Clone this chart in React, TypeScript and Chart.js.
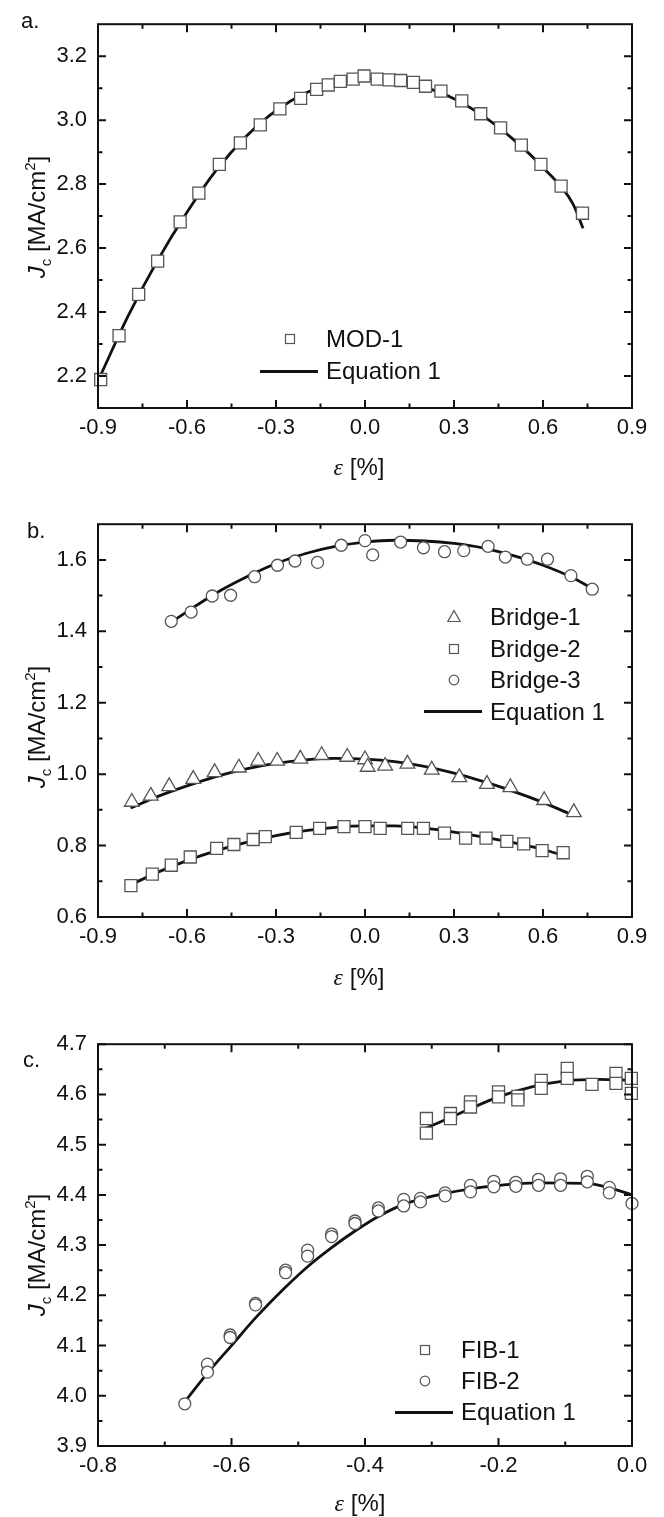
import React, { useEffect, useRef } from "react";
import { Chart, registerables } from "chart.js";
Chart.register(...registerables);

// ---------- Panel a ----------
const aX = [-0.891, -0.829, -0.763, -0.699, -0.623, -0.56, -0.491, -0.42, -0.353, -0.287, -0.217, -0.163, -0.124, -0.083, -0.04, -0.003, 0.041, 0.081, 0.12, 0.163, 0.204, 0.256, 0.326, 0.39, 0.457, 0.527, 0.593, 0.661, 0.733];
const aY = [2.189, 2.326, 2.455, 2.559, 2.682, 2.772, 2.862, 2.929, 2.985, 3.035, 3.068, 3.096, 3.11, 3.121, 3.128, 3.138, 3.128, 3.126, 3.124, 3.118, 3.106, 3.091, 3.06, 3.02, 2.976, 2.922, 2.862, 2.794, 2.709];
const aFitX = [-0.89, -0.8, -0.7, -0.6, -0.5, -0.4, -0.3, -0.2, -0.1, 0.0, 0.1, 0.2, 0.3, 0.4, 0.5, 0.6, 0.7, 0.735];
const aFitY = [2.205, 2.385, 2.56, 2.712, 2.845, 2.95, 3.03, 3.085, 3.118, 3.13, 3.124, 3.103, 3.067, 3.012, 2.94, 2.852, 2.74, 2.662];
const aXTicks = [-0.9, -0.6, -0.3, 0, 0.3, 0.6, 0.9];
const aXMinor = [-0.75, -0.45, -0.15, 0.15, 0.45, 0.75];
const aYTicks = [2.2, 2.4, 2.6, 2.8, 3.0, 3.2];
const aYMinor = [2.3, 2.5, 2.7, 2.9, 3.1];

// ---------- Panel b ----------
const b1X = [-0.786, -0.722, -0.66, -0.579, -0.507, -0.425, -0.36, -0.296, -0.218, -0.146, -0.06, 0.0, 0.009, 0.068, 0.143, 0.225, 0.318, 0.411, 0.49, 0.604, 0.704];
const b1Y = [0.922, 0.939, 0.966, 0.986, 1.005, 1.018, 1.037, 1.037, 1.043, 1.053, 1.048, 1.041, 1.02, 1.023, 1.029, 1.012, 0.991, 0.972, 0.963, 0.927, 0.893];
const b2X = [-0.789, -0.717, -0.653, -0.589, -0.5, -0.442, -0.377, -0.336, -0.232, -0.153, -0.071, 0.0, 0.051, 0.144, 0.197, 0.268, 0.339, 0.408, 0.478, 0.535, 0.597, 0.668];
const b2Y = [0.688, 0.72, 0.745, 0.768, 0.792, 0.803, 0.817, 0.825, 0.837, 0.848, 0.853, 0.853, 0.848, 0.848, 0.848, 0.835, 0.821, 0.821, 0.812, 0.805, 0.786, 0.78];
const b3X = [-0.653, -0.586, -0.515, -0.453, -0.372, -0.295, -0.236, -0.16, -0.08, 0.0, 0.026, 0.12, 0.197, 0.268, 0.333, 0.415, 0.473, 0.547, 0.615, 0.694, 0.766];
const b3Y = [1.428, 1.454, 1.499, 1.501, 1.553, 1.585, 1.597, 1.593, 1.641, 1.654, 1.614, 1.65, 1.634, 1.623, 1.626, 1.638, 1.608, 1.602, 1.602, 1.556, 1.518];
const b1FitX = [-0.79, -0.7, -0.6, -0.5, -0.4, -0.3, -0.2, -0.1, 0.0, 0.1, 0.2, 0.3, 0.4, 0.5, 0.6, 0.7];
const b1FitY = [0.905, 0.937, 0.967, 0.994, 1.015, 1.03, 1.04, 1.044, 1.042, 1.035, 1.022, 1.003, 0.979, 0.952, 0.921, 0.885];
const b2FitX = [-0.79, -0.7, -0.6, -0.5, -0.4, -0.3, -0.2, -0.1, 0.0, 0.1, 0.2, 0.3, 0.4, 0.5, 0.6, 0.67];
const b2FitY = [0.69, 0.725, 0.758, 0.786, 0.809, 0.828, 0.842, 0.851, 0.855, 0.855, 0.849, 0.838, 0.824, 0.808, 0.789, 0.772];
const b3FitX = [-0.655, -0.5, -0.4, -0.3, -0.2, -0.1, 0.0, 0.1, 0.2, 0.3, 0.4, 0.5, 0.6, 0.7, 0.77];
const b3FitY = [1.425, 1.508, 1.552, 1.59, 1.618, 1.638, 1.65, 1.655, 1.653, 1.646, 1.633, 1.612, 1.585, 1.55, 1.518];
const bXTicks = [-0.9, -0.6, -0.3, 0, 0.3, 0.6, 0.9];
const bXMinor = [-0.75, -0.45, -0.15, 0.15, 0.45, 0.75];
const bYTicks = [0.6, 0.8, 1.0, 1.2, 1.4, 1.6];
const bYMinor = [0.7, 0.9, 1.1, 1.3, 1.5];

// ---------- Panel c ----------
const c1X = [-0.308, -0.308, -0.272, -0.272, -0.242, -0.242, -0.2, -0.2, -0.171, -0.171, -0.136, -0.136, -0.097, -0.097, -0.06, -0.024, -0.024, -0.001, -0.001];
const c1Y = [4.552, 4.523, 4.562, 4.552, 4.585, 4.575, 4.605, 4.595, 4.596, 4.589, 4.628, 4.612, 4.652, 4.632, 4.62, 4.642, 4.622, 4.632, 4.602];
const c2X = [-0.67, -0.636, -0.636, -0.602, -0.602, -0.564, -0.564, -0.519, -0.519, -0.486, -0.486, -0.45, -0.45, -0.415, -0.415, -0.38, -0.38, -0.342, -0.342, -0.317, -0.317, -0.28, -0.28, -0.242, -0.242, -0.207, -0.207, -0.174, -0.174, -0.14, -0.14, -0.107, -0.107, -0.067, -0.067, -0.034, -0.034, 0.0];
const c2Y = [3.984, 4.063, 4.047, 4.121, 4.116, 4.184, 4.181, 4.25, 4.245, 4.29, 4.278, 4.322, 4.317, 4.348, 4.343, 4.374, 4.368, 4.391, 4.378, 4.393, 4.386, 4.404, 4.398, 4.419, 4.406, 4.427, 4.416, 4.425, 4.417, 4.431, 4.419, 4.432, 4.419, 4.437, 4.426, 4.415, 4.404, 4.383];
const c1FitX = [-0.31, -0.25, -0.2, -0.15, -0.1, -0.05, 0.0];
const c1FitY = [4.532, 4.567, 4.595, 4.615, 4.627, 4.63, 4.628];
const c2FitX = [-0.67, -0.636, -0.6, -0.564, -0.52, -0.486, -0.45, -0.415, -0.38, -0.34, -0.28, -0.207, -0.14, -0.067, -0.034, 0.0];
const c2FitY = [3.988, 4.045, 4.1, 4.155, 4.215, 4.257, 4.295, 4.328, 4.357, 4.382, 4.403, 4.418, 4.424, 4.423, 4.414, 4.4];
const cXTicks = [-0.8, -0.6, -0.4, -0.2, 0.0];
const cXMinor = [-0.7, -0.5, -0.3, -0.1];
const cYTicks = [3.9, 4.0, 4.1, 4.2, 4.3, 4.4, 4.5, 4.6, 4.7];
const cYMinor = [3.95, 4.05, 4.15, 4.25, 4.35, 4.45, 4.55, 4.65];

const FONT = "'Liberation Sans', Arial, Helvetica, sans-serif";
const INK = "#111";
const MARK = "#555";

const zip = (xs: number[], ys: number[]) => xs.map((x, i) => ({ x, y: ys[i] }));
const fmt = (v: number) => (Math.abs(v) < 1e-9 ? 0 : v).toFixed(1);

const frameTicks = {
  id: "frameTicks",
  afterDatasetsDraw(chart: any, _args: any, opts: any) {
    const { ctx, chartArea: a, scales } = chart;
    const sx = scales.x;
    const sy = scales.y;
    ctx.save();
    ctx.strokeStyle = INK;
    ctx.lineWidth = 2;
    ctx.beginPath();
    const seg = (x1: number, y1: number, x2: number, y2: number) => {
      ctx.moveTo(x1, y1);
      ctx.lineTo(x2, y2);
    };
    const xt = (vals: number[], len: number) => {
      for (const v of vals) {
        const p = sx.getPixelForValue(v);
        seg(p, a.bottom, p, a.bottom - len);
        seg(p, a.top, p, a.top + len);
      }
    };
    const yt = (vals: number[], len: number) => {
      for (const v of vals) {
        const p = sy.getPixelForValue(v);
        seg(a.left, p, a.left + len, p);
        seg(a.right, p, a.right - len, p);
      }
    };
    xt(opts.xMajor, 8);
    xt(opts.xMinor, 4.5);
    yt(opts.yMajor, 8);
    yt(opts.yMinor, 4.5);
    ctx.stroke();
    ctx.strokeRect(a.left, a.top, a.right - a.left, a.bottom - a.top);
    ctx.restore();
  },
};

function scatterSet(label: string, xs: number[], ys: number[], style: string, r: number) {
  return {
    label,
    data: zip(xs, ys),
    showLine: false,
    pointStyle: style,
    pointRadius: r,
    pointBackgroundColor: "#fff",
    pointBorderColor: MARK,
    pointBorderWidth: 1.3,
    clip: false,
  };
}
function fitSet(xs: number[], ys: number[]) {
  return {
    label: "Equation 1",
    data: zip(xs, ys),
    showLine: true,
    borderColor: INK,
    borderWidth: 2.8,
    pointRadius: 0,
    cubicInterpolationMode: "monotone",
    fill: false,
  };
}

type Spec = {
  datasets: any[];
  xmin: number; xmax: number; ymin: number; ymax: number;
  xTicks: number[]; xMinor: number[]; yTicks: number[]; yMinor: number[];
  padTop: number; padBottom: number;
};

function buildConfig(s: Spec): any {
  const tickFont = { family: FONT, size: 22 };
  return {
    type: "scatter",
    data: { datasets: s.datasets },
    options: {
      animation: false,
      responsive: false,
      devicePixelRatio: 1,
      events: [],
      layout: { padding: { left: 0, right: 32, top: s.padTop, bottom: s.padBottom } },
      plugins: {
        legend: { display: false },
        tooltip: { enabled: false },
        frameTicks: { xMajor: s.xTicks, xMinor: s.xMinor, yMajor: s.yTicks, yMinor: s.yMinor },
      },
      scales: {
        x: {
          type: "linear",
          position: "bottom",
          min: s.xmin,
          max: s.xmax,
          afterBuildTicks: (sc: any) => { sc.ticks = s.xTicks.map((v) => ({ value: v })); },
          afterFit: (sc: any) => { sc.height = 60; },
          ticks: { callback: (v: any) => fmt(Number(v)), font: tickFont, color: INK, padding: 7, maxRotation: 0, autoSkip: false },
          grid: { display: false, drawTicks: false },
          border: { display: false },
        },
        y: {
          type: "linear",
          position: "left",
          min: s.ymin,
          max: s.ymax,
          afterBuildTicks: (sc: any) => { sc.ticks = s.yTicks.map((v) => ({ value: v })); },
          afterFit: (sc: any) => { sc.width = 98; },
          ticks: { callback: (v: any) => fmt(Number(v)), font: tickFont, color: INK, padding: 11, autoSkip: false },
          grid: { display: false, drawTicks: false },
          border: { display: false },
        },
      },
    },
    plugins: [frameTicks],
  };
}

function ChartCanvas({ top, height, spec }: { top: number; height: number; spec: Spec }) {
  const ref = useRef<HTMLCanvasElement | null>(null);
  useEffect(() => {
    if (!ref.current) return;
    const chart = new Chart(ref.current, buildConfig(spec));
    return () => chart.destroy();
  }, []);
  return (
    <canvas
      ref={ref}
      width={664}
      height={height}
      style={{ position: "absolute", left: 0, top, width: 664, height }}
    />
  );
}

function YTitle({ cx, cy }: { cx: number; cy: number }) {
  const w = 300, h = 30;
  return (
    <div
      style={{
        position: "absolute", left: cx - w / 2, top: cy - h / 2, width: w, height: h,
        lineHeight: h + "px", textAlign: "center", transform: "rotate(-90deg)",
        fontSize: 24, whiteSpace: "nowrap",
      }}
    >
      <i>J</i>
      <span style={{ fontSize: 15, position: "relative", top: 6 }}>c</span>
      {" [MA/cm"}
      <span style={{ fontSize: 15, position: "relative", top: -10 }}>2</span>
      {"]"}
    </div>
  );
}

function XTitle({ cx, cy }: { cx: number; cy: number }) {
  const w = 200, h = 30;
  return (
    <div
      style={{
        position: "absolute", left: cx - w / 2, top: cy - h / 2, width: w, height: h,
        lineHeight: h + "px", textAlign: "center", fontSize: 24, whiteSpace: "nowrap",
      }}
    >
      <span style={{ fontFamily: "'Liberation Serif', 'DejaVu Serif', serif", fontStyle: "italic" }}>ε</span>
      {" [%]"}
    </div>
  );
}

function PanelLabel({ x, baseline, text }: { x: number; baseline: number; text: string }) {
  return (
    <div style={{ position: "absolute", left: x, top: baseline - 20, fontSize: 22, lineHeight: "25px", whiteSpace: "nowrap" }}>
      {text}
    </div>
  );
}

type LegItem = { kind: "square" | "circle" | "triangle" | "line"; label: string };

function Marker({ kind, cx, cy }: { kind: string; cx: number; cy: number }) {
  if (kind === "line") {
    return <div style={{ position: "absolute", left: cx - 29, top: cy - 1.5, width: 58, height: 3, background: INK }} />;
  }
  const s = 20;
  return (
    <svg width={s} height={s} style={{ position: "absolute", left: cx - s / 2, top: cy - s / 2 }}>
      {kind === "square" && <rect x={5.5} y={5.5} width={9} height={9} fill="#fff" stroke={MARK} strokeWidth={1.2} />}
      {kind === "circle" && <circle cx={10} cy={10} r={4.8} fill="#fff" stroke={MARK} strokeWidth={1.2} />}
      {kind === "triangle" && <polygon points="10,3.5 16.2,14.5 3.8,14.5" fill="#fff" stroke={MARK} strokeWidth={1.2} />}
    </svg>
  );
}

function Legend({ textX, firstY, step, items }: { textX: number; firstY: number; step: number; items: LegItem[] }) {
  return (
    <>
      {items.map((it, i) => {
        const cy = firstY + i * step;
        const mx = it.kind === "line" ? textX - 37 : textX - 36;
        return (
          <React.Fragment key={i}>
            <Marker kind={it.kind} cx={mx} cy={cy} />
            <div style={{ position: "absolute", left: textX, top: cy - 14, height: 28, lineHeight: "28px", fontSize: 24, whiteSpace: "nowrap" }}>
              {it.label}
            </div>
          </React.Fragment>
        );
      })}
    </>
  );
}

const specA: Spec = {
  datasets: [scatterSet("MOD-1", aX, aY, "rect", 8.5), fitSet(aFitX, aFitY)],
  xmin: -0.9, xmax: 0.9, ymin: 2.1, ymax: 3.3,
  xTicks: aXTicks, xMinor: aXMinor, yTicks: aYTicks, yMinor: aYMinor,
  padTop: 9, padBottom: 32,
};
const specB: Spec = {
  datasets: [
    scatterSet("Bridge-1", b1X, b1Y, "triangle", 8.5),
    scatterSet("Bridge-2", b2X, b2Y, "rect", 8.5),
    scatterSet("Bridge-3", b3X, b3Y, "circle", 6),
    fitSet(b1FitX, b1FitY),
    fitSet(b2FitX, b2FitY),
    fitSet(b3FitX, b3FitY),
  ],
  xmin: -0.9, xmax: 0.9, ymin: 0.6, ymax: 1.7,
  xTicks: bXTicks, xMinor: bXMinor, yTicks: bYTicks, yMinor: bYMinor,
  padTop: 16, padBottom: 43,
};
const specC: Spec = {
  datasets: [
    scatterSet("FIB-1", c1X, c1Y, "rect", 8.5),
    scatterSet("FIB-2", c2X, c2Y, "circle", 6),
    fitSet(c1FitX, c1FitY),
    fitSet(c2FitX, c2FitY),
  ],
  xmin: -0.8, xmax: 0.0, ymin: 3.9, ymax: 4.7,
  xTicks: cXTicks, xMinor: cXMinor, yTicks: cYTicks, yMinor: cYMinor,
  padTop: 24, padBottom: 11,
};

export default function App() {
  return (
    <div style={{ position: "absolute", left: 0, top: 0, width: 664, height: 1517, background: "#fff", fontFamily: FONT, color: INK, overflow: "hidden" }}>
      <ChartCanvas top={0} height={500} spec={specA} />
      <ChartCanvas top={500} height={520} spec={specB} />
      <ChartCanvas top={1020} height={497} spec={specC} />

      <PanelLabel x={21} baseline={28} text="a." />
      <PanelLabel x={27} baseline={538} text="b." />
      <PanelLabel x={23} baseline={1067} text="c." />

      <YTitle cx={37} cy={217} />
      <YTitle cx={37} cy={727} />
      <YTitle cx={37} cy={1255} />

      <XTitle cx={359} cy={467} />
      <XTitle cx={359} cy={977} />
      <XTitle cx={360} cy={1503} />

      <Legend textX={326} firstY={339} step={32} items={[{ kind: "square", label: "MOD-1" }, { kind: "line", label: "Equation 1" }]} />
      <Legend textX={490} firstY={617} step={31.5} items={[
        { kind: "triangle", label: "Bridge-1" },
        { kind: "square", label: "Bridge-2" },
        { kind: "circle", label: "Bridge-3" },
        { kind: "line", label: "Equation 1" },
      ]} />
      <Legend textX={461} firstY={1350} step={31} items={[
        { kind: "square", label: "FIB-1" },
        { kind: "circle", label: "FIB-2" },
        { kind: "line", label: "Equation 1" },
      ]} />
    </div>
  );
}
